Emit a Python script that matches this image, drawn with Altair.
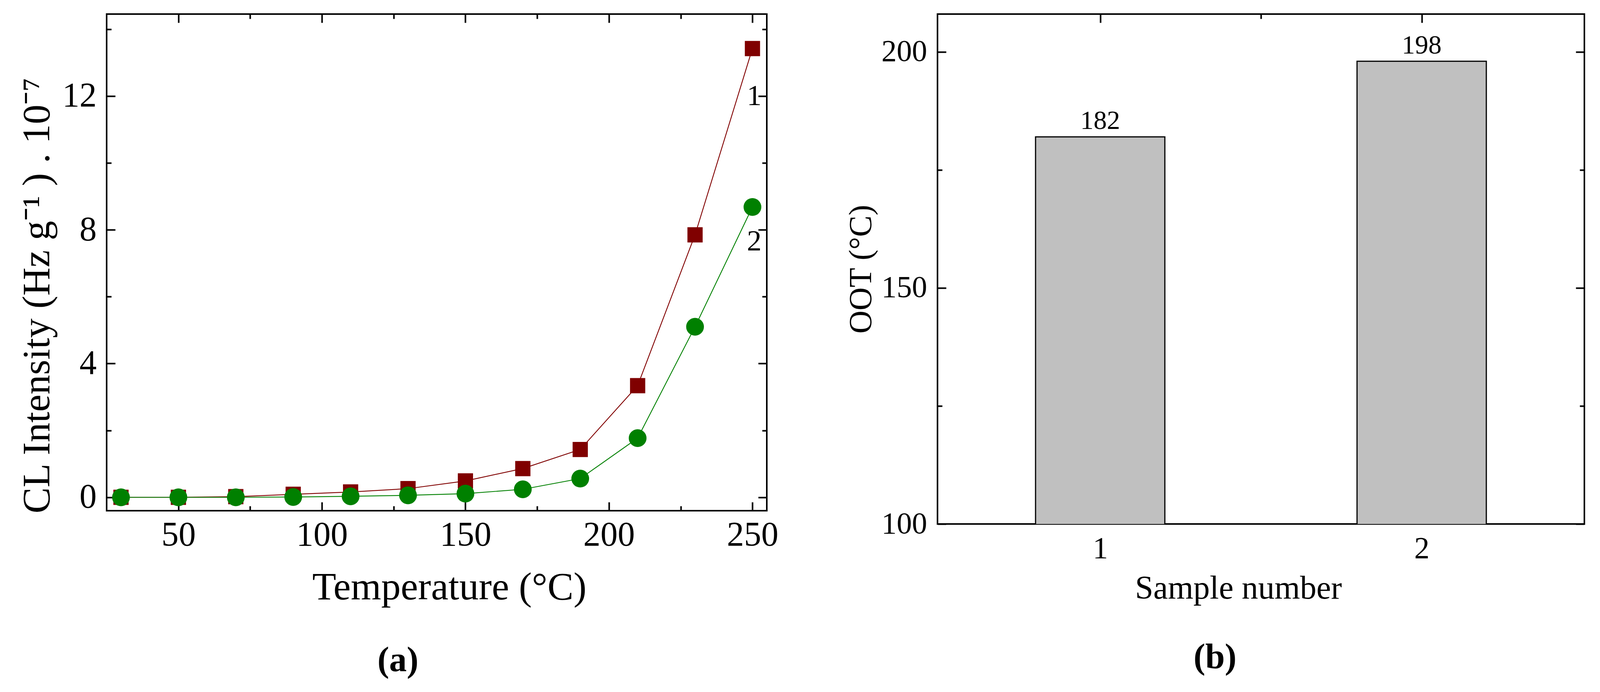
import altair as alt
import pandas as pd

FONT = "Liberation Serif"

# (a) CL intensity against temperature, two samples
temps = [30, 50, 70, 90, 110, 130, 150, 170, 190, 210, 230, 250]
cl_sample1 = [0.0, 0.0, 0.02, 0.09, 0.16, 0.26, 0.49, 0.86, 1.43, 3.34, 7.85, 13.42]
cl_sample2 = [0.0, 0.0, 0.0, 0.01, 0.03, 0.06, 0.11, 0.24, 0.56, 1.77, 5.1, 8.68]
curve_names = ["1", "2"]
curve_colors = ["#800000", "#008000"]
curve_label_x = [250.6, 250.6]
curve_label_y = [12.0, 7.65]

# (b) oxidation onset temperature
samples = [1, 2]
oot = [182, 198]

# axis values
a_x_labels = [50, 100, 150, 200, 250]
a_x_minor = [75, 125, 175, 225]
a_y_labels = [0, 4, 8, 12]
a_y_ticks = [0, 2, 4, 6, 8, 10, 12, 14]
b_x_labels = [1, 2]
b_x_minor = [1.5]
b_y_labels = [100, 150, 200]
b_y_ticks = [100, 125, 150, 175, 200]

A_W, A_H = 1690, 1271
B_W, B_H = 1656, 1305
MAJOR, MINOR = 22, 12


def label_axis(values, size, pad, title, title_size, title_pad, **kw):
    # labels and title only, the ticks are drawn inside by the other axes
    return alt.Axis(values=values, ticks=False, domain=False, grid=False,
                    labelFontSize=size, labelPadding=pad, labelFlush=False,
                    labelOverlap=False, title=title, titleFontSize=title_size,
                    titlePadding=title_pad, **kw)


def x_ticks(orient, values, length):
    # moved inward by its own length so the ticks end on the frame
    return alt.Axis(orient=orient, offset=-length, values=values, labels=False,
                    domain=False, grid=False, title=None, tickWidth=4,
                    tickColor="black", tickSize=length)


def y_ticks(orient, offset, values, test):
    # an axis moved onto the opposite edge so its ticks point into the plot
    return alt.Axis(orient=orient, offset=offset, values=values, labels=False,
                    domain=False, grid=False, title=None, tickWidth=4,
                    tickColor="black",
                    tickSize={"condition": {"test": test, "value": MAJOR}, "value": MINOR})


# ---- panel (a)
df_a1 = pd.DataFrame({"temp": temps, "cl": cl_sample1})
df_a2 = pd.DataFrame({"temp": temps, "cl": cl_sample2})
df_lab = pd.DataFrame({"temp": curve_label_x, "cl": curve_label_y, "name": curve_names})

xa = alt.Scale(domain=[25, 255], nice=False, zero=False)
ya = alt.Scale(domain=[-0.4, 14.45], nice=False, zero=False)
test_ay = "datum.value % 4 === 0"

line1 = alt.Chart(df_a1).mark_line(strokeWidth=2.2, color=curve_colors[0]).encode(
    x=alt.X("temp:Q", scale=xa,
            axis=label_axis(a_x_labels, 88, 18, "Temperature (°C)", 100, 41, titleX=877)),
    y=alt.Y("cl:Q", scale=ya,
            axis=label_axis(a_y_labels, 88, 26, "CL Intensity (Hz g⁻¹ ) . 10⁻⁷", 100, 13,
                            titleY=720)),
)

line2 = alt.Chart(df_a2).mark_line(strokeWidth=2.2, color=curve_colors[1]).encode(
    x=alt.X("temp:Q", scale=xa, axis=x_ticks("top", a_x_labels, MAJOR)),
    y=alt.Y("cl:Q", scale=ya, axis=y_ticks("right", -A_W, a_y_ticks, test_ay)),
)

squares = alt.Chart(df_a1).mark_square(size=1520, color=curve_colors[0], opacity=1).encode(
    x=alt.X("temp:Q", scale=xa, axis=x_ticks("top", a_x_minor, MINOR)),
    y=alt.Y("cl:Q", scale=ya, axis=y_ticks("left", -A_W, a_y_ticks, test_ay)),
)

circles = alt.Chart(df_a2).mark_circle(size=2070, color=curve_colors[1], opacity=1).encode(
    x=alt.X("temp:Q", scale=xa, axis=x_ticks("bottom", a_x_labels, MAJOR)),
    y=alt.Y("cl:Q", scale=ya, axis=None),
)

curve_text = alt.Chart(df_lab).mark_text(font=FONT, fontSize=75, color="black",
                                         align="center", baseline="middle").encode(
    x=alt.X("temp:Q", scale=xa, axis=x_ticks("bottom", a_x_minor, MINOR)),
    y=alt.Y("cl:Q", scale=ya, axis=None),
    text="name:N",
)

panel_a = alt.layer(line1, line2, squares, circles, curve_text).resolve_axis(
    x="independent", y="independent"
).properties(
    width=A_W, height=A_H,
    title=alt.TitleParams("(a)", orient="bottom", anchor="middle", frame="bounds",
                          fontSize=90, fontWeight="bold", font=FONT, color="black",
                          offset=94),
)

# ---- panel (b)
df_b = pd.DataFrame({"sample": samples, "oot": oot})
xb = alt.Scale(domain=[0.5, 2.5], nice=False, zero=False)
yb = alt.Scale(domain=[100, 208], nice=False, zero=False)
test_by = "datum.value % 50 === 0"

bars = alt.Chart(df_b).mark_bar(size=331, color="#C0C0C0", clip=True).encode(
    x=alt.X("sample:Q", scale=xb,
            axis=label_axis(b_x_labels, 78, 24, "Sample number", 84, 22, titleX=770)),
    y=alt.Y("oot:Q", scale=yb,
            axis=label_axis(b_y_labels, 78, 27, "OOT (°C)", 82, 10)),
)

bar_edges = alt.Chart(df_b).mark_bar(size=331, fillOpacity=0, stroke="black",
                                     strokeWidth=3, clip=True).encode(
    x=alt.X("sample:Q", scale=xb, axis=x_ticks("top", b_x_labels, MAJOR)),
    y=alt.Y("oot:Q", scale=yb, axis=y_ticks("right", -B_W, b_y_ticks, test_by)),
)

bar_text = alt.Chart(df_b).mark_text(font=FONT, fontSize=68, color="black", dy=-20,
                                     baseline="alphabetic").encode(
    x=alt.X("sample:Q", scale=xb, axis=x_ticks("top", b_x_minor, MINOR)),
    y=alt.Y("oot:Q", scale=yb, axis=y_ticks("left", -B_W, b_y_ticks, test_by)),
    text="oot:Q",
)

panel_b = alt.layer(bars, bar_edges, bar_text).resolve_axis(
    x="independent", y="independent"
).properties(
    width=B_W, height=B_H,
    title=alt.TitleParams("(b)", orient="bottom", anchor="middle", frame="bounds",
                          fontSize=90, fontWeight="bold", font=FONT, color="black",
                          offset=91),
)

chart = alt.hconcat(panel_a, panel_b, spacing=166).properties(
    padding={"left": 35, "top": 24, "right": 5, "bottom": 5},
    background="white",
).configure_view(
    stroke="black", strokeWidth=4
).configure_axis(
    labelFont=FONT, titleFont=FONT, labelColor="black", titleColor="black",
    titleFontWeight="normal",
)

chart.save("out.html", embed_options={"renderer": "svg", "actions": False})
